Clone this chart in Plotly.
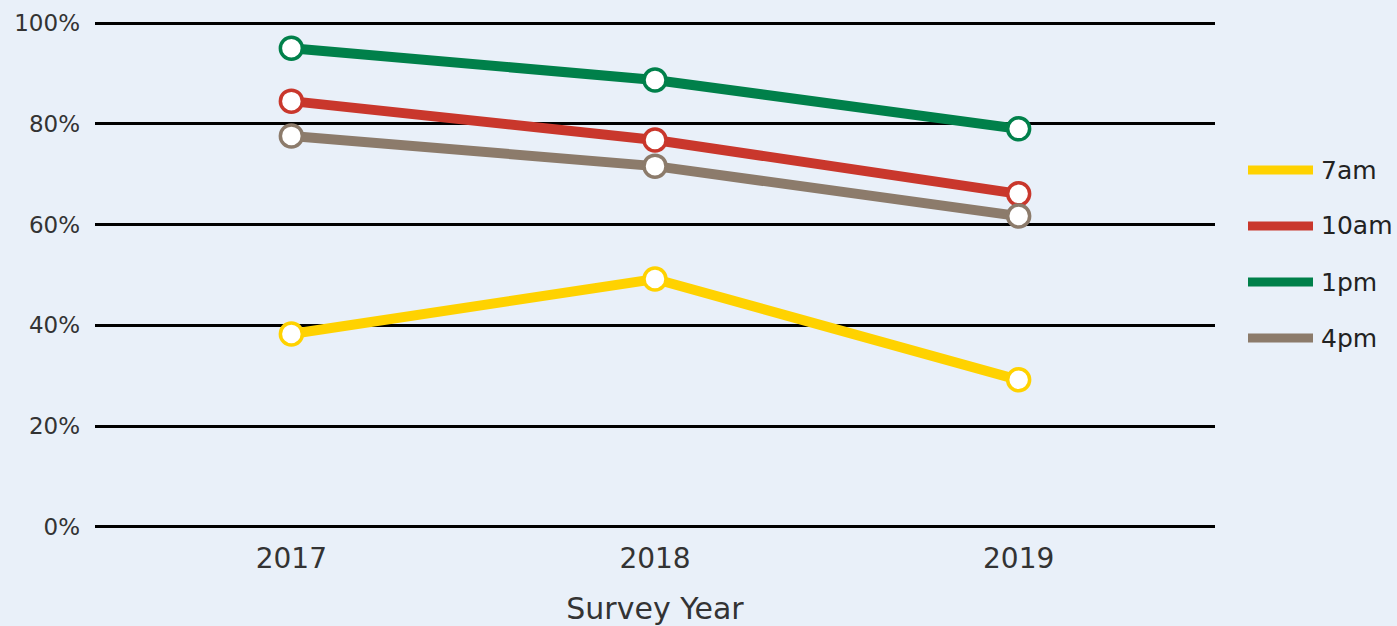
import plotly.graph_objects as go

years = [2017, 2018, 2019]
series_names = ["7am", "10am", "1pm", "4pm"]
v_7am = [38.3, 49.2, 29.2]
v_10am = [84.5, 76.8, 66.1]
v_1pm = [95.0, 88.7, 79.0]
v_4pm = [77.6, 71.6, 61.7]
colors = ["#FFD200", "#C9372C", "#00804A", "#8C7B6B"]
y_ticks = [0, 20, 40, 60, 80, 100]
y_tick_labels = ["0%", "20%", "40%", "60%", "80%", "100%"]

values = [v_7am, v_10am, v_1pm, v_4pm]
font_family = "DejaVu Sans, sans-serif"

W, H = 1397, 626
L, R, T, B = 95, 182, 21, 97
plot_w = W - L - R
plot_h = H - T - B

fig = go.Figure()
for name, vals, col in zip(series_names, values, colors):
    fig.add_trace(go.Scatter(
        x=years, y=vals, mode="lines+markers", name=name, showlegend=False,
        line=dict(color=col, width=10),
        marker=dict(size=22, color="white", line=dict(color=col, width=3.5)),
        hoverinfo="x+y+name",
    ))

# custom legend (positions in pixels converted to paper coords)
leg_y = [170, 226, 282, 338]
for name, col, py in zip(series_names, colors, leg_y):
    yp = (H - B - py) / plot_h
    fig.add_shape(type="line", xref="paper", yref="paper",
                  x0=(1248 - L) / plot_w, x1=(1313 - L) / plot_w, y0=yp, y1=yp,
                  line=dict(color=col, width=9))
    fig.add_annotation(xref="paper", yref="paper", x=(1319 - L) / plot_w, y=yp,
                       text=name, showarrow=False, xanchor="left", yanchor="middle",
                       font=dict(size=25, color="#222222", family=font_family))

fig.update_layout(
    width=W, height=H,
    margin=dict(l=L, r=R, t=T, b=B, pad=0, autoexpand=False),
    paper_bgcolor="#E9F0F9", plot_bgcolor="#E9F0F9",
    font=dict(family=font_family, color="#333333"),
    showlegend=False,
    xaxis=dict(
        range=[2016.46, 2019.54], tickvals=years, ticktext=[str(y) for y in years],
        showgrid=False, zeroline=False, showline=False, ticks="",
        tickfont=dict(size=28, color="#333333"),
        ticklabelstandoff=10, automargin=False,
        title=dict(text="Survey Year", font=dict(size=30, color="#333333"), standoff=24),
    ),
    yaxis=dict(
        range=[-0.4, 100.4], tickvals=y_ticks, ticktext=y_tick_labels,
        showgrid=True, gridcolor="#000000", gridwidth=2.5,
        zeroline=False, showline=False, ticks="",
        tickfont=dict(size=23, color="#333333"),
        ticklabelstandoff=14, automargin=False,
    ),
)
fig.write_html("out.html", config={"displayModeBar": False},
               post_script="document.body.style.margin='0';")
